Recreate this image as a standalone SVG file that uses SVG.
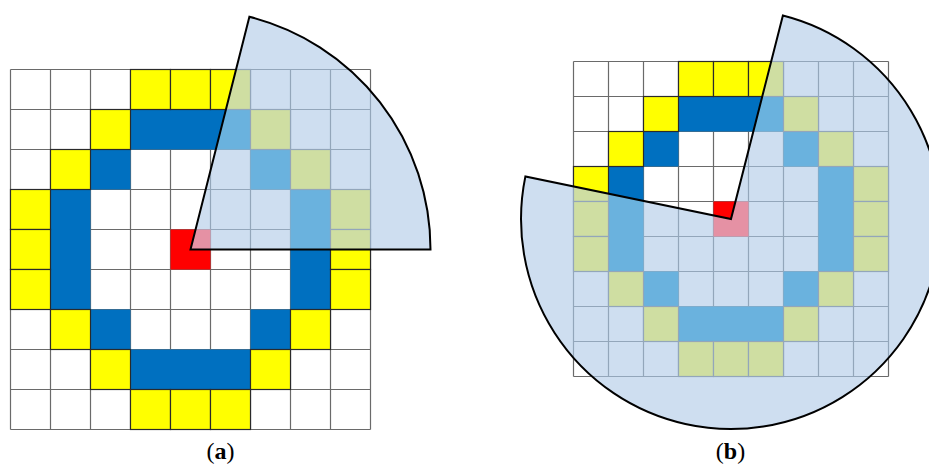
<svg xmlns="http://www.w3.org/2000/svg" width="929" height="465" viewBox="0 0 929 465">
<style>
.grid{fill:none;stroke:#6a6a6a;stroke-width:1.2}
.frame{fill:#fff;stroke:none}
.y{fill:#FFFF00;stroke:#2a2a2a;stroke-width:1.2}
.b{fill:#0070C0;stroke:none}
.r{fill:#FF0000;stroke:none}
.cgrid{fill:none;stroke:#93A6BA;stroke-width:1.2}
.cy{fill:#CFDEA2;stroke:#93A6BA;stroke-width:1.2}
.cb{fill:#6AB2DE;stroke:none}
.cr{fill:#E591A4;stroke:none}
.sfill{fill:#CEDEF0;stroke:none}
.sline{fill:none;stroke:#000;stroke-width:2;stroke-linejoin:miter}
.lbl{font-family:"Liberation Serif","DejaVu Serif",serif;font-size:24px;fill:#000;text-anchor:middle}
</style>
<defs>
<clipPath id="clip-a"><path d="M190.5 249.5L430.5 249.5A240 240 0 0 0 249.4 16.8Z"/></clipPath>
<clipPath id="clip-b"><path d="M731 219L782.9 15.5A210 210 0 1 1 525.4 176.4Z"/></clipPath>
</defs>
<g id="panel-a">
<rect class="frame" x="10.5" y="69.5" width="360" height="360"/>
<path class="grid" d="M10.5 69.5V429.5M50.5 69.5V429.5M90.5 69.5V429.5M130.5 69.5V429.5M170.5 69.5V429.5M210.5 69.5V429.5M250.5 69.5V429.5M290.5 69.5V429.5M330.5 69.5V429.5M370.5 69.5V429.5M10.5 69.5H370.5M10.5 109.5H370.5M10.5 149.5H370.5M10.5 189.5H370.5M10.5 229.5H370.5M10.5 269.5H370.5M10.5 309.5H370.5M10.5 349.5H370.5M10.5 389.5H370.5M10.5 429.5H370.5"/>
<g>
<rect class="b" x="130.5" y="109.5" width="120" height="40"/>
<rect class="b" x="90.5" y="149.5" width="40" height="40"/>
<rect class="b" x="250.5" y="149.5" width="40" height="40"/>
<rect class="b" x="50.5" y="189.5" width="40" height="120"/>
<rect class="b" x="290.5" y="189.5" width="40" height="120"/>
<rect class="b" x="90.5" y="309.5" width="40" height="40"/>
<rect class="b" x="250.5" y="309.5" width="40" height="40"/>
<rect class="b" x="130.5" y="349.5" width="120" height="40"/>
<rect class="r" x="170.5" y="229.5" width="40" height="40"/>
</g>
<g>
<rect class="y" x="130.5" y="69.5" width="40" height="40"/>
<rect class="y" x="170.5" y="69.5" width="40" height="40"/>
<rect class="y" x="210.5" y="69.5" width="40" height="40"/>
<rect class="y" x="90.5" y="109.5" width="40" height="40"/>
<rect class="y" x="250.5" y="109.5" width="40" height="40"/>
<rect class="y" x="50.5" y="149.5" width="40" height="40"/>
<rect class="y" x="290.5" y="149.5" width="40" height="40"/>
<rect class="y" x="10.5" y="189.5" width="40" height="40"/>
<rect class="y" x="330.5" y="189.5" width="40" height="40"/>
<rect class="y" x="10.5" y="229.5" width="40" height="40"/>
<rect class="y" x="330.5" y="229.5" width="40" height="40"/>
<rect class="y" x="10.5" y="269.5" width="40" height="40"/>
<rect class="y" x="330.5" y="269.5" width="40" height="40"/>
<rect class="y" x="50.5" y="309.5" width="40" height="40"/>
<rect class="y" x="290.5" y="309.5" width="40" height="40"/>
<rect class="y" x="90.5" y="349.5" width="40" height="40"/>
<rect class="y" x="250.5" y="349.5" width="40" height="40"/>
<rect class="y" x="130.5" y="389.5" width="40" height="40"/>
<rect class="y" x="170.5" y="389.5" width="40" height="40"/>
<rect class="y" x="210.5" y="389.5" width="40" height="40"/>
</g>
<g id="sector-a" clip-path="url(#clip-a)">
<rect class="sfill" x="180" y="10" width="260" height="250"/>
<path class="cgrid" d="M170.5 69.5V429.5M210.5 69.5V429.5M250.5 69.5V429.5M290.5 69.5V429.5M330.5 69.5V429.5M370.5 69.5V429.5M170.5 69.5H370.5M170.5 109.5H370.5M170.5 149.5H370.5M170.5 189.5H370.5M170.5 229.5H370.5M170.5 269.5H370.5"/>
<rect class="cb" x="130.5" y="109.5" width="120" height="40"/>
<rect class="cb" x="250.5" y="149.5" width="40" height="40"/>
<rect class="cb" x="290.5" y="189.5" width="40" height="120"/>
<rect class="cr" x="170.5" y="229.5" width="40" height="40"/>
<rect class="cy" x="170.5" y="69.5" width="40" height="40"/>
<rect class="cy" x="210.5" y="69.5" width="40" height="40"/>
<rect class="cy" x="250.5" y="109.5" width="40" height="40"/>
<rect class="cy" x="290.5" y="149.5" width="40" height="40"/>
<rect class="cy" x="330.5" y="189.5" width="40" height="40"/>
<rect class="cy" x="330.5" y="229.5" width="40" height="40"/>
</g>
<path class="sline" d="M190.5 249.5L430.5 249.5A240 240 0 0 0 249.4 16.8Z"/>
<text class="lbl" x="220.5" y="459">(<tspan font-weight="bold">a</tspan>)</text>
</g>
<g id="panel-b">
<rect class="frame" x="573.5" y="61.5" width="315" height="315"/>
<path class="grid" d="M573.5 61.5V376.5M608.5 61.5V376.5M643.5 61.5V376.5M678.5 61.5V376.5M713.5 61.5V376.5M748.5 61.5V376.5M783.5 61.5V376.5M818.5 61.5V376.5M853.5 61.5V376.5M888.5 61.5V376.5M573.5 61.5H888.5M573.5 96.5H888.5M573.5 131.5H888.5M573.5 166.5H888.5M573.5 201.5H888.5M573.5 236.5H888.5M573.5 271.5H888.5M573.5 306.5H888.5M573.5 341.5H888.5M573.5 376.5H888.5"/>
<g>
<rect class="b" x="678.5" y="96.5" width="105" height="35"/>
<rect class="b" x="643.5" y="131.5" width="35" height="35"/>
<rect class="b" x="783.5" y="131.5" width="35" height="35"/>
<rect class="b" x="608.5" y="166.5" width="35" height="105"/>
<rect class="b" x="818.5" y="166.5" width="35" height="105"/>
<rect class="b" x="643.5" y="271.5" width="35" height="35"/>
<rect class="b" x="783.5" y="271.5" width="35" height="35"/>
<rect class="b" x="678.5" y="306.5" width="105" height="35"/>
<rect class="r" x="713.5" y="201.5" width="35" height="35"/>
</g>
<g>
<rect class="y" x="678.5" y="61.5" width="35" height="35"/>
<rect class="y" x="713.5" y="61.5" width="35" height="35"/>
<rect class="y" x="748.5" y="61.5" width="35" height="35"/>
<rect class="y" x="643.5" y="96.5" width="35" height="35"/>
<rect class="y" x="783.5" y="96.5" width="35" height="35"/>
<rect class="y" x="608.5" y="131.5" width="35" height="35"/>
<rect class="y" x="818.5" y="131.5" width="35" height="35"/>
<rect class="y" x="573.5" y="166.5" width="35" height="35"/>
<rect class="y" x="853.5" y="166.5" width="35" height="35"/>
<rect class="y" x="573.5" y="201.5" width="35" height="35"/>
<rect class="y" x="853.5" y="201.5" width="35" height="35"/>
<rect class="y" x="573.5" y="236.5" width="35" height="35"/>
<rect class="y" x="853.5" y="236.5" width="35" height="35"/>
<rect class="y" x="608.5" y="271.5" width="35" height="35"/>
<rect class="y" x="818.5" y="271.5" width="35" height="35"/>
<rect class="y" x="643.5" y="306.5" width="35" height="35"/>
<rect class="y" x="783.5" y="306.5" width="35" height="35"/>
<rect class="y" x="678.5" y="341.5" width="35" height="35"/>
<rect class="y" x="713.5" y="341.5" width="35" height="35"/>
<rect class="y" x="748.5" y="341.5" width="35" height="35"/>
</g>
<g id="sector-b" clip-path="url(#clip-b)">
<rect class="sfill" x="515" y="5" width="430" height="430"/>
<path class="cgrid" d="M573.5 61.5V376.5M608.5 61.5V376.5M643.5 61.5V376.5M678.5 61.5V376.5M713.5 61.5V376.5M748.5 61.5V376.5M783.5 61.5V376.5M818.5 61.5V376.5M853.5 61.5V376.5M888.5 61.5V376.5M573.5 61.5H888.5M573.5 96.5H888.5M573.5 131.5H888.5M573.5 166.5H888.5M573.5 201.5H888.5M573.5 236.5H888.5M573.5 271.5H888.5M573.5 306.5H888.5M573.5 341.5H888.5M573.5 376.5H888.5"/>
<rect class="cb" x="678.5" y="96.5" width="105" height="35"/>
<rect class="cb" x="643.5" y="131.5" width="35" height="35"/>
<rect class="cb" x="783.5" y="131.5" width="35" height="35"/>
<rect class="cb" x="608.5" y="166.5" width="35" height="105"/>
<rect class="cb" x="818.5" y="166.5" width="35" height="105"/>
<rect class="cb" x="643.5" y="271.5" width="35" height="35"/>
<rect class="cb" x="783.5" y="271.5" width="35" height="35"/>
<rect class="cb" x="678.5" y="306.5" width="105" height="35"/>
<rect class="cr" x="713.5" y="201.5" width="35" height="35"/>
<rect class="cy" x="678.5" y="61.5" width="35" height="35"/>
<rect class="cy" x="713.5" y="61.5" width="35" height="35"/>
<rect class="cy" x="748.5" y="61.5" width="35" height="35"/>
<rect class="cy" x="643.5" y="96.5" width="35" height="35"/>
<rect class="cy" x="783.5" y="96.5" width="35" height="35"/>
<rect class="cy" x="608.5" y="131.5" width="35" height="35"/>
<rect class="cy" x="818.5" y="131.5" width="35" height="35"/>
<rect class="cy" x="573.5" y="166.5" width="35" height="35"/>
<rect class="cy" x="853.5" y="166.5" width="35" height="35"/>
<rect class="cy" x="573.5" y="201.5" width="35" height="35"/>
<rect class="cy" x="853.5" y="201.5" width="35" height="35"/>
<rect class="cy" x="573.5" y="236.5" width="35" height="35"/>
<rect class="cy" x="853.5" y="236.5" width="35" height="35"/>
<rect class="cy" x="608.5" y="271.5" width="35" height="35"/>
<rect class="cy" x="818.5" y="271.5" width="35" height="35"/>
<rect class="cy" x="643.5" y="306.5" width="35" height="35"/>
<rect class="cy" x="783.5" y="306.5" width="35" height="35"/>
<rect class="cy" x="678.5" y="341.5" width="35" height="35"/>
<rect class="cy" x="713.5" y="341.5" width="35" height="35"/>
<rect class="cy" x="748.5" y="341.5" width="35" height="35"/>
</g>
<path class="sline" d="M731 219L782.9 15.5A210 210 0 1 1 525.4 176.4Z"/>
<text class="lbl" x="730.5" y="459">(<tspan font-weight="bold">b</tspan>)</text>
</g>
</svg>
